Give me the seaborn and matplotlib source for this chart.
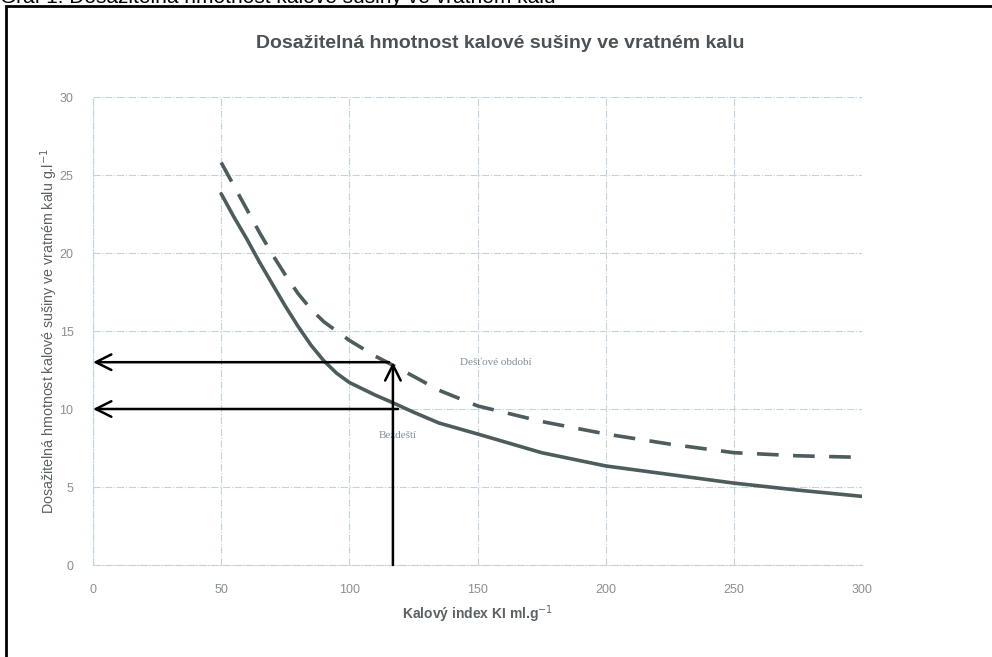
import matplotlib
matplotlib.use("Agg")
import matplotlib.pyplot as plt
from matplotlib.patches import Rectangle
import pandas as pd
import seaborn as sns

# values
kalovy_index = [50, 55, 60, 65, 70, 75, 80, 85, 90, 95, 100, 110, 117, 125, 135, 150,
                175, 200, 225, 250, 275, 300]
bezdesti = [23.8, 22.3, 20.9, 19.4, 18.0, 16.6, 15.3, 14.1, 13.1, 12.3, 11.7, 10.9, 10.4,
            9.8, 9.1, 8.4, 7.2, 6.35, 5.8, 5.25, 4.8, 4.4]
destove_obdobi = [25.8, 24.3, 22.8, 21.3, 19.9, 18.6, 17.4, 16.4, 15.6, 15.0, 14.4, 13.4,
                  12.8, 12.1, 11.2, 10.2, 9.2, 8.4, 7.75, 7.2, 7.0, 6.9]

# reading arrows: KI value and the two read-off concentrations
ki_odecet = 117
odecet_dest = 13.0
odecet_bez = 10.0

x_ticks = [0, 50, 100, 150, 200, 250, 300]
y_ticks = [0, 5, 10, 15, 20, 25, 30]

df = pd.DataFrame({
    "KI": kalovy_index * 2,
    "hmotnost": bezdesti + destove_obdobi,
    "obdobi": ["Bezdeští"] * len(kalovy_index) + ["Dešťové období"] * len(kalovy_index),
})

sns.set_theme(style="white")
plt.rcParams["font.family"] = ["Liberation Sans", "DejaVu Sans"]

fig = plt.figure(figsize=(9.92, 6.57), dpi=100)
ax = fig.add_axes([93 / 992, 1 - 565 / 657, 769 / 992, 468 / 657])

line_col = "#4d5c5c"
sns.lineplot(data=df, x="KI", y="hmotnost", style="obdobi",
             dashes={"Bezdeští": "", "Dešťové období": (6, 4)},
             color=line_col, linewidth=2.6, legend=False, ax=ax)

ax.set_xlim(0, 300)
ax.set_ylim(0, 30)
ax.set_xticks(x_ticks)
ax.set_yticks(y_ticks)
ax.tick_params(axis="both", labelsize=9, colors="#8a8f94", length=0, pad=14)
ax.grid(True, color="#c3d2dc", linestyle="-.", linewidth=0.8)
for s in ["top", "right"]:
    ax.spines[s].set_visible(False)
for s in ["left", "bottom"]:
    ax.spines[s].set_color("#c3d2dc")
    ax.spines[s].set_linestyle("-.")
    ax.spines[s].set_linewidth(0.8)

ax.set_xlabel(r"Kalový index KI ml.g$^{-1}$", fontsize=10, color="#5a6266",
              fontweight="bold", labelpad=5)
ax.set_ylabel(r"Dosažitelná hmotnost kalové sušiny ve vratném kalu g.l$^{-1}$",
              fontsize=10.3, color="#5a6266", labelpad=0)
ax.set_title("Dosažitelná hmotnost kalové sušiny ve vratném kalu", x=0.53,
             fontsize=14, color="#4a5257", fontweight="bold", pad=35)

# curve labels
ax.text(157, 13.0, "Dešťové období", family=["Liberation Serif", "DejaVu Serif"],
        fontsize=8, color="#7e8f9c", ha="center", va="center")
ax.text(119, 8.3, "Bezdeští", family=["Liberation Serif", "DejaVu Serif"],
        fontsize=8, color="#7e8f9c", ha="center", va="center")

# reading arrows
arrow = dict(arrowstyle="->", color="black", lw=1.8, mutation_scale=28,
             shrinkA=0, shrinkB=0)
ax.annotate("", xy=(ki_odecet, odecet_dest), xytext=(ki_odecet, 0), arrowprops=arrow)
ax.annotate("", xy=(0, odecet_dest), xytext=(ki_odecet - 1.5, odecet_dest), arrowprops=arrow)
ax.annotate("", xy=(0, odecet_bez), xytext=(ki_odecet + 2, odecet_bez), arrowprops=arrow)

# page frame and cut-off caption above it
fig.patches.append(Rectangle((6 / 992, -0.1), 1.1, 1 - 6 / 657 + 0.1, fill=False,
                             edgecolor="black", lw=2, transform=fig.transFigure))
fig.text(0.0, 1 - 3 / 657, "Graf 1: Dosažitelná hmotnost kalové sušiny ve vratném kalu",
         fontsize=15, color="black", ha="left", va="baseline")

fig.savefig("out.png", dpi=100)
